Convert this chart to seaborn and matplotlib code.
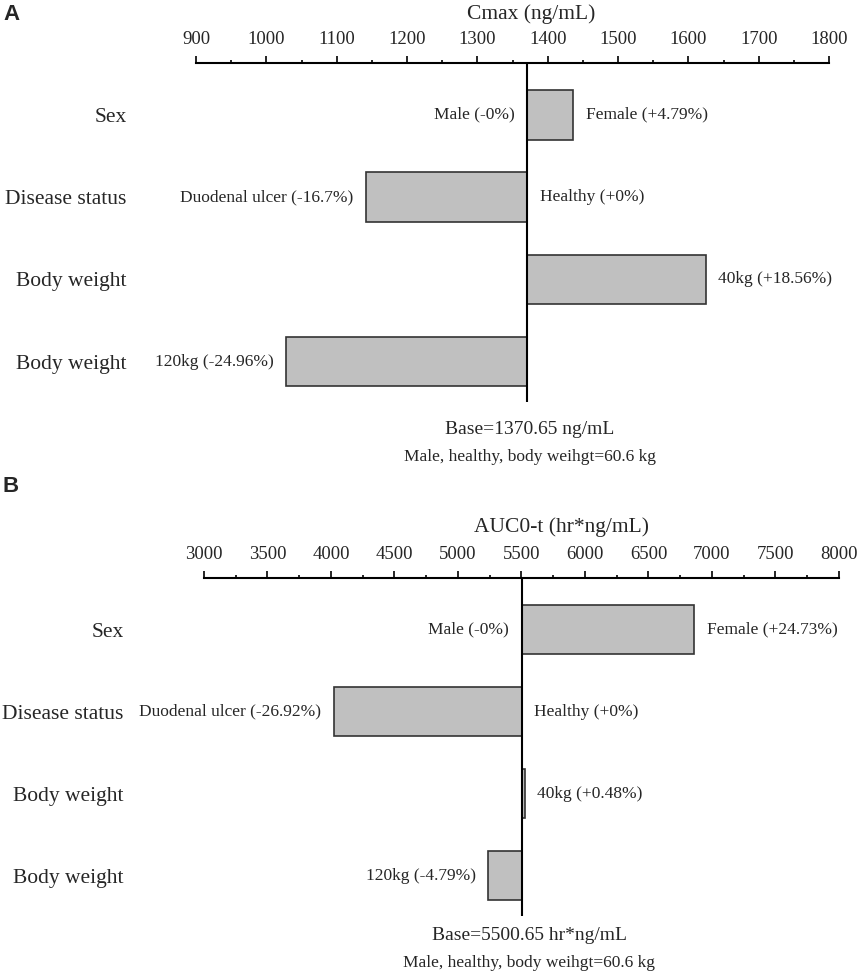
import numpy as np
import pandas as pd
import matplotlib
matplotlib.use('Agg')
import matplotlib.pyplot as plt
from matplotlib.ticker import FixedLocator
import seaborn as sns

# Data
factors = ['Sex', 'Disease status', 'Body weight', 'Body weight']

cmax_base = 1370.65
cmax_pct = [4.79, -16.7, 18.56, -24.96]
cmax_left = ['Male (-0%)', 'Duodenal ulcer (-16.7%)', '', '120kg (-24.96%)']
cmax_right = ['Female (+4.79%)', 'Healthy (+0%)', '40kg (+18.56%)', '']
cmax_ticks = [900, 1000, 1100, 1200, 1300, 1400, 1500, 1600, 1700, 1800]

auc_base = 5500.65
auc_pct = [24.73, -26.92, 0.48, -4.79]
auc_left = ['Male (-0%)', 'Duodenal ulcer (-26.92%)', '', '120kg (-4.79%)']
auc_right = ['Female (+24.73%)', 'Healthy (+0%)', '40kg (+0.48%)', '']
auc_ticks = [3000, 3500, 4000, 4500, 5000, 5500, 6000, 6500, 7000, 7500, 8000]

sns.set_style('white')
plt.rcParams['font.family'] = ['Liberation Serif', 'DejaVu Serif']


def tornado(ax, base, pct, left_labels, right_labels, ticks, ypad):
    # bars drawn as deviation from the base value
    df = pd.DataFrame({'row': range(len(factors)),
                       'dev': [base * p / 100 for p in pct]})
    sns.barplot(data=df, x='dev', y='row', orient='h', ax=ax, width=0.6,
                color='#c0c0c0', saturation=1, edgecolor='#333333', linewidth=1.2)
    ax.axvline(0, color='black', lw=1.5, zorder=5)

    step = ticks[1] - ticks[0]
    ax.set_xlim(ticks[0] - base, ticks[-1] - base)
    ax.xaxis.set_major_locator(FixedLocator([t - base for t in ticks]))
    ax.xaxis.set_minor_locator(FixedLocator([t + step / 2 - base for t in ticks[:-1]]))
    ax.set_xticklabels([str(t) for t in ticks])
    ax.xaxis.tick_top()
    ax.tick_params(axis='x', which='major', length=5, width=1.2, pad=6,
                   labelsize=13.5, color='black', top=True, bottom=False)
    ax.tick_params(axis='x', which='minor', length=2.5, width=1.2,
                   color='black', top=True, bottom=False)

    ax.set_ylim(3.49, -0.63)
    ax.set_yticks(range(len(factors)))
    ax.set_yticklabels(factors)
    ax.tick_params(axis='y', length=0, pad=ypad, labelsize=15.5)
    ax.set_xlabel('')
    ax.set_ylabel('')

    for s in ['left', 'right', 'bottom']:
        ax.spines[s].set_visible(False)
    ax.spines['top'].set_linewidth(1.5)
    ax.spines['top'].set_color('black')

    for i, p in enumerate(pct):
        d = base * p / 100
        if left_labels[i]:
            ax.annotate(left_labels[i], (min(d, 0), i), xytext=(-9, 0),
                        textcoords='offset points', ha='right', va='center', fontsize=12.5)
        if right_labels[i]:
            ax.annotate(right_labels[i], (max(d, 0), i), xytext=(9, 0),
                        textcoords='offset points', ha='left', va='center', fontsize=12.5)


fig = plt.figure(figsize=(8.58, 9.75), dpi=100)
W, H = 858, 975

ax1 = fig.add_axes([196 / W, 1 - 402 / H, 633 / W, 339 / H])
tornado(ax1, cmax_base, cmax_pct, cmax_left, cmax_right, cmax_ticks, 50)

ax2 = fig.add_axes([204 / W, 1 - 916 / H, 635 / W, 338 / H])
tornado(ax2, auc_base, auc_pct, auc_left, auc_right, auc_ticks, 58)

# panel letters, titles and base notes
fig.text(3 / W, 1 - 15 / H, 'A', family=['Liberation Sans', 'DejaVu Sans'],
         fontweight='bold', fontsize=16, ha='left', va='center')
fig.text(3 / W, 1 - 487 / H, 'B', family=['Liberation Sans', 'DejaVu Sans'],
         fontweight='bold', fontsize=16, ha='left', va='center')

fig.text(531 / W, 1 - 14 / H, 'Cmax (ng/mL)', fontsize=15.5, ha='center', va='center')
fig.text(561 / W, 1 - 527 / H, 'AUC0-t (hr*ng/mL)', fontsize=15.5, ha='center', va='center')

fig.text(530 / W, 1 - 430 / H, 'Base=1370.65 ng/mL', fontsize=14, ha='center', va='center')
fig.text(530 / W, 1 - 457 / H, 'Male, healthy, body weihgt=60.6 kg', fontsize=12.5,
         ha='center', va='center')
fig.text(529 / W, 1 - 935 / H, 'Base=5500.65 hr*ng/mL', fontsize=14, ha='center', va='center')
fig.text(529 / W, 1 - 963 / H, 'Male, healthy, body weihgt=60.6 kg', fontsize=12.5,
         ha='center', va='center')

fig.savefig('out.png', dpi=100)
